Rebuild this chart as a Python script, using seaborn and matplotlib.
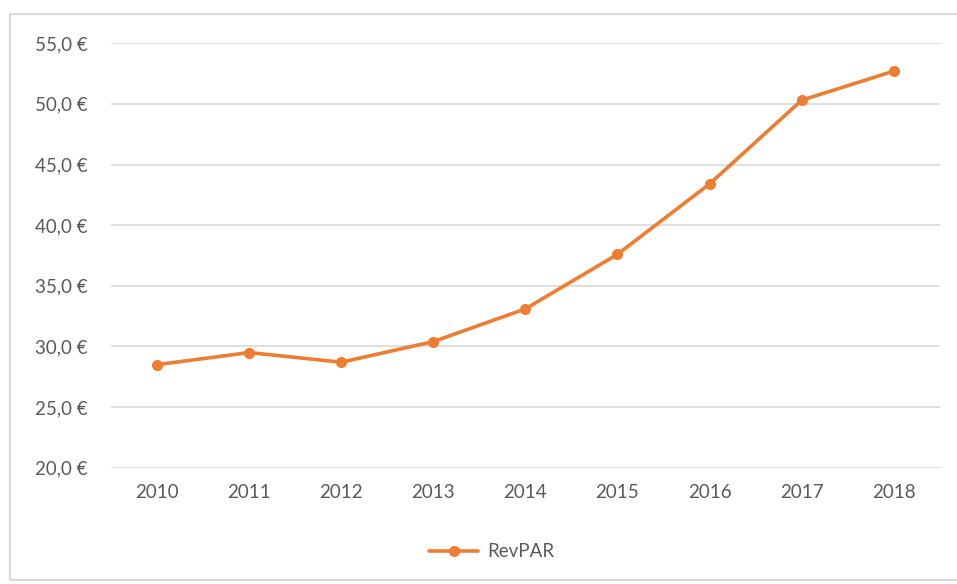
import matplotlib
matplotlib.use("Agg")
import matplotlib.pyplot as plt
import matplotlib.lines as mlines
import matplotlib.patches as mpatches
import seaborn as sns
import pandas as pd
from matplotlib.ticker import FuncFormatter, MultipleLocator

years = ["2010", "2011", "2012", "2013", "2014", "2015", "2016", "2017", "2018"]
revpar = [28.5, 29.5, 28.7, 30.4, 33.1, 37.6, 43.4, 50.3, 52.7]
series_name = "RevPAR"

df = pd.DataFrame({"year": years, "value": revpar, "pos": range(len(years))})

sns.set_theme(style="white")
plt.rcParams["font.family"] = ["Lato", "DejaVu Sans"]

orange = "#ED7D31"
text_gray = "#595959"
grid_gray = "#D9D9D9"

fig = plt.figure(figsize=(9.57, 5.84), dpi=100)
ax = fig.add_axes([0.116, 0.199, 0.866, 0.727])

sns.lineplot(data=df, x="pos", y="value", ax=ax, color=orange, linewidth=2.6,
             marker="o", markersize=8, markeredgewidth=0, label=series_name,
             legend=False)

ax.set_xlim(-0.5, len(years) - 0.5)
ax.set_ylim(20, 55)
ax.yaxis.set_major_locator(MultipleLocator(5))
ax.yaxis.set_major_formatter(FuncFormatter(lambda v, _: f"{v:.1f}".replace(".", ",") + " €"))
ax.set_xticks(range(len(years)))
ax.set_xticklabels(years)
ax.set_xlabel("")
ax.set_ylabel("")

ax.grid(axis="y", color=grid_gray, linewidth=1.2)
ax.set_axisbelow(True)
for s in ax.spines.values():
    s.set_visible(False)
ax.tick_params(axis="both", length=0, labelsize=13.5, labelcolor=text_gray)
ax.tick_params(axis="y", pad=17)
ax.tick_params(axis="x", pad=12)

# legend below the plot
handle = mlines.Line2D([], [], color=orange, linewidth=2.6, marker="o",
                       markersize=8, markeredgewidth=0)
fig.legend([handle], [series_name], loc="center", bbox_to_anchor=(0.514, 0.055),
           frameon=False, fontsize=13.5, labelcolor=text_gray, handlelength=2.6,
           handletextpad=0.5)

# chart area border (right side runs off the canvas)
fig.add_artist(mpatches.Rectangle((10 / 957, 4 / 584), 980 / 957, 566 / 584,
                                  transform=fig.transFigure, fill=False,
                                  edgecolor=grid_gray, linewidth=1.5))

fig.savefig("out.png", dpi=100, facecolor="white")
